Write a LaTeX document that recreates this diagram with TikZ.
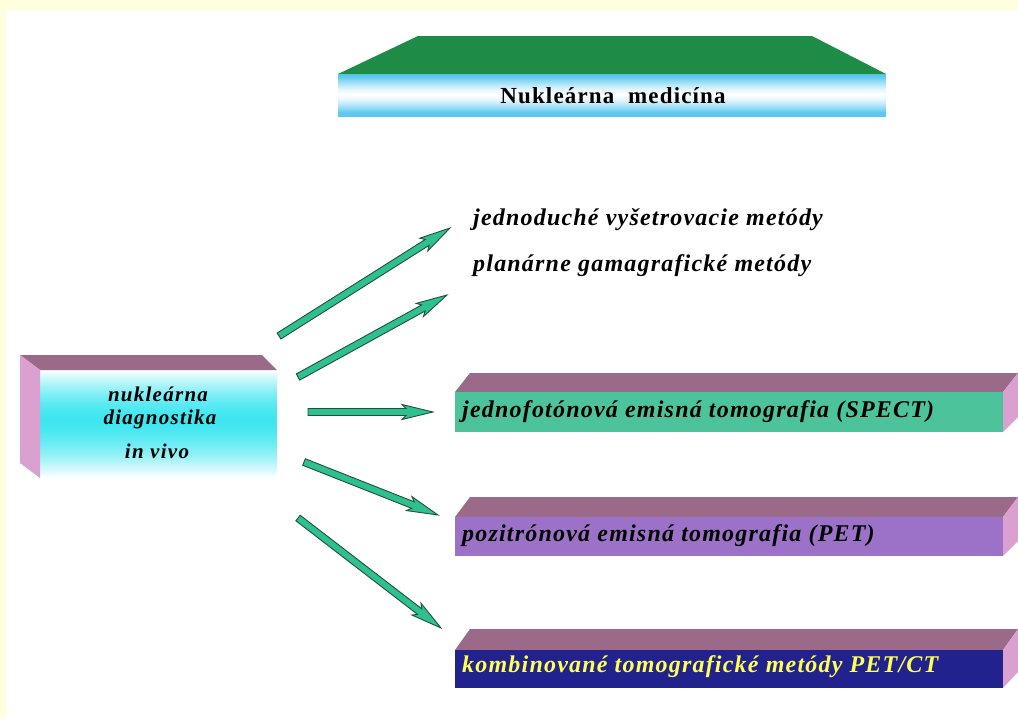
\documentclass[tikz,border=0pt]{standalone}
\usepackage{fontspec}
\setmainfont{Liberation Serif}
\usetikzlibrary{calc}

\definecolor{pagebg}{HTML}{FFFFDD}
\definecolor{lidgreen}{HTML}{1E8C46}
\definecolor{skyface}{HTML}{5CC8F0}
\definecolor{aquaface}{HTML}{3EE6F0}
\definecolor{lidmauve}{HTML}{9A6A88}
\definecolor{sidepink}{HTML}{D9A0D0}
\definecolor{spectface}{HTML}{4CC39A}
\definecolor{petface}{HTML}{9B72C8}
\definecolor{petctface}{HTML}{22228E}
\definecolor{petcttext}{HTML}{FFFF55}
\definecolor{arrowfill}{HTML}{2EC08E}
\definecolor{arrowedge}{HTML}{22503E}

\tikzset{
  lbl/.style={anchor=west, inner sep=0pt,
    font=\fontsize{24}{27}\selectfont\bfseries\itshape\addfontfeature{LetterSpace=5}},
  boxlbl/.style={align=center, inner sep=0pt,
    font=\fontsize{21}{25}\selectfont\bfseries\itshape\addfontfeature{LetterSpace=6}},
  titlelbl/.style={inner sep=0pt,
    font=\fontsize{23}{26}\selectfont\bfseries\addfontfeature{LetterSpace=5}},
  arrowbody/.style={fill=arrowfill, draw=arrowedge, line width=0.9pt, line join=miter},
  lid/.style={fill=lidmauve},
  side/.style={fill=sidepink},
}

% thin block arrow from #1 to #2
\newcommand\blockarrow[2]{%
  \coordinate (ha) at ($(#2)!27pt!(#1)$);
  \coordinate (hb) at ($(#2)!31pt!(#1)$);
  \filldraw[arrowbody]
    ($(#1)!3.5pt!90:(#2)$) -- ($(ha)!3.5pt!90:(#2)$) -- ($(hb)!7.5pt!90:(#2)$)
    -- (#2)
    -- ($(hb)!7.5pt!-90:(#2)$) -- ($(ha)!3.5pt!-90:(#2)$) -- ($(#1)!3.5pt!-90:(#2)$)
    -- cycle;
}

\begin{document}
\begin{tikzpicture}[x=1pt, y=-1pt]
\useasboundingbox (0,0) rectangle (1018,718);

% page
\fill[pagebg] (0,0) rectangle (1018,718);
\fill[white] (6,10) rectangle (1018,718);

% title slab: sky blue at the edges, white in the middle, built from strips
\foreach \i in {0,...,41}{
  \pgfmathsetmacro\p{100*min(1,1.25*abs(2*(\i+0.5)/42-1)^1.4)}
  \fill[skyface!\p!white] (338,74+\i) rectangle (886,75.6+\i);
}
\fill[lidgreen] (418,36) -- (812,36) -- (886,74) -- (338,74) -- cycle;
\node[titlelbl] (title) at (613,96) {Nukleárna\hspace{0.3em} medicína};

% source block: white at top and bottom, aqua band around the middle
\foreach \i in {0,...,107}{
  \pgfmathsetmacro\d{(\i+0.5-50)/(\i<50 ? 50 : 58)}
  \pgfmathsetmacro\p{100*max(0,1-abs(\d)^1.6)}
  \fill[aquaface!\p!white] (40,370+\i) rectangle (277,371.6+\i);
}
\fill[lid] (20,355) -- (262,355) -- (277,370) -- (40,370) -- cycle;
\fill[side] (20,355) -- (40,370) -- (40,478) -- (20,463) -- cycle;
\node[boxlbl] (src1) at (158,394) {nukleárna};
\node[boxlbl] (src2) at (160,419) {diagnostika};
\node[boxlbl] (src3) at (157,451) {in vivo};

% plain labels
\node[lbl] (simple) at (473,220) {jednoduché vyšetrovacie metódy};
\node[lbl] (planar) at (473,266) {planárne gamagrafické metódy};

% SPECT bar
\fill[lid] (470,373) -- (1018,373) -- (1003,392) -- (455,392) -- cycle;
\fill[spectface] (455,392) rectangle (1003,432);
\fill[side] (1003,392) -- (1018,373) -- (1018,417) -- (1003,432) -- cycle;
\node[lbl] (spect) at (462,412) {jednofotónová emisná tomografia (SPECT)};

% PET bar
\fill[lid] (470,497) -- (1018,497) -- (1003,517) -- (455,517) -- cycle;
\fill[petface] (455,517) rectangle (1003,556);
\fill[side] (1003,517) -- (1018,497) -- (1018,541) -- (1003,556) -- cycle;
\node[lbl] (pet) at (462,536) {pozitrónová emisná tomografia (PET)};

% PET/CT bar
\fill[lid] (470,629) -- (1018,629) -- (1003,650) -- (455,650) -- cycle;
\fill[petctface] (455,650) rectangle (1003,688);
\fill[side] (1003,650) -- (1018,629) -- (1018,672) -- (1003,688) -- cycle;
\node[lbl, text=petcttext] (petct) at (462,667) {kombinované tomografické metódy PET/CT};

% arrow ends
\coordinate (a1s) at (279,336); \coordinate (a1e) at (450,228);
\coordinate (a2s) at (298,377); \coordinate (a2e) at (447,295);
\coordinate (a3s) at (308,412); \coordinate (a3e) at (433,412);
\coordinate (a4s) at (304,462); \coordinate (a4e) at (438,515);
\coordinate (a5s) at (298,518); \coordinate (a5e) at (441,628);

\blockarrow{a1s}{a1e}
\blockarrow{a2s}{a2e}
\blockarrow{a3s}{a3e}
\blockarrow{a4s}{a4e}
\blockarrow{a5s}{a5e}
\end{tikzpicture}
\end{document}
